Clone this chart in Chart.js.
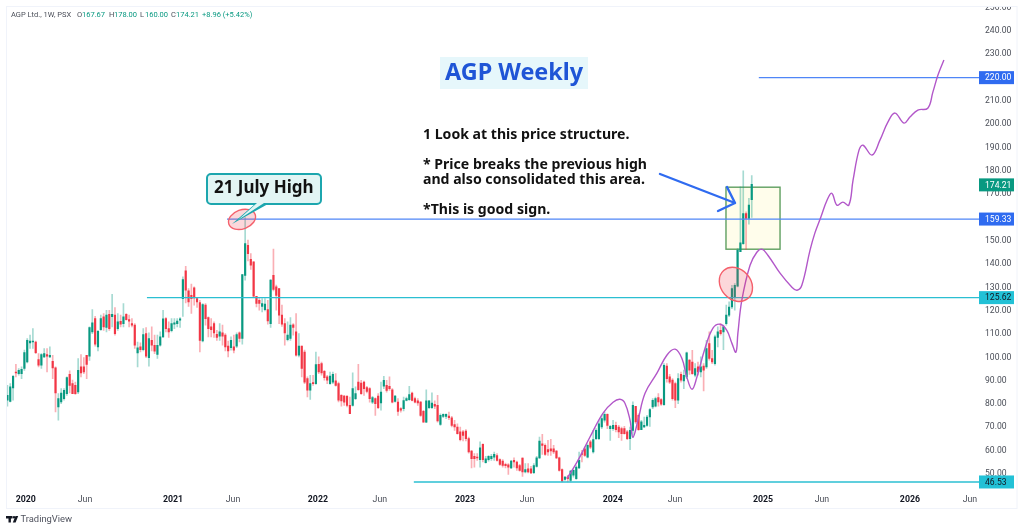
<!DOCTYPE html>
<html>
<head>
<meta charset="utf-8">
<title>AGP Weekly</title>
<script src="https://cdn.jsdelivr.net/npm/chart.js@4"></script>
<style>
html, body { margin: 0; padding: 0; background: #fff; }
canvas { display: block; }
</style>
</head>
<body>
<canvas id="chartOne" width="1024" height="531"></canvas>
<script>
// weekly candles, ten weeks per row
const opens = [
81.6,81.1,86.9,93.7,93,93,95.2,98,106.2,106.6,
106.6,99,96.6,100.2,101.2,100.2,98.3,95.5,78.7,80.9,
82.3,84.4,92.7,88.7,88,85.2,95.9,95.9,100.9,100.5,
110.9,116.6,104.5,111.9,117.4,112.8,118.5,117.4,118.1,112.3,
115.5,114.5,118.5,116.2,114.5,113.8,101.9,104.5,103.3,110.2,
99.9,107.3,105.2,101.3,105.2,108.8,116.6,112.3,111.4,114.2,
114.5,115.9,125.2,137.1,128.5,126.6,129.8,125.2,123.5,107,
122.4,117.1,113.1,114.5,109.9,109.1,110.5,109.5,104.8,104.2,
104.5,104.8,110.5,108.1,135.2,148.1,142,141,126.2,124.5,
121.9,120.5,120.5,114.5,135.2,130.2,129.5,118.1,114.5,107.6,
108.1,114,110.9,100.9,104.8,102.3,90.9,85.9,89.2,88.7,
97,97.3,94,91.6,88.7,89.4,89.9,88.7,83.7,83.4,
83.4,79.4,79.4,82.3,89.4,89,89.4,87,86.6,80.8,
82.3,83.4,80.4,87.6,88,87.6,86.1,81.1,80.8,78,
78,81.5,81.8,84.7,82.3,81.3,80.8,76.8,72.2,78.4,
78.4,79.8,79.4,71.2,74.7,74.7,74.8,74.1,71.1,70.1,
68,68,68.4,65.1,59.8,57.5,57.2,56.1,62.7,54.8,
56.1,56.5,57.2,57.9,56.1,55.5,54.1,53.9,52.6,55.8,
55.1,53.6,56.8,50.8,52.2,52.2,50.5,53.2,56.8,62.9,
62.2,60.4,60.8,60.8,59.8,56.9,51.8,47.6,48.6,47.2,
49.4,47.9,52.6,58.7,60.8,57.2,63.7,59.4,65.1,65.1,
70.1,73,75.5,69.4,69.4,70.8,70.1,69.4,69.4,68,
65.1,68.7,79,75.1,69,70.1,70.8,74.4,78.7,79,
82.7,81.9,79.7,96.2,91.6,90.2,88.7,81.6,92.7,89.9,
91.6,98.8,98,92.3,95.9,93.7,96.2,95.9,105.9,99.5,
97.3,108.5,111.6,110.9,114.5,118.1,121.6,125.9,130.5,145.3,
148.8,161.7,159.6,167.67
];
const highs = [
88,88.7,92.3,97,95.2,95.9,103.1,108.1,109.5,112.3,
107,101.6,101.6,103.8,103.8,104.5,100.9,95.9,84.4,86.6,
86.6,91.6,94.2,90.2,89.4,99.5,101.2,99.9,100.9,113.1,
120.5,117.6,111.6,118.1,118.8,120.2,120.2,127,121.4,118.8,
118.1,123.1,118.8,118.1,116.6,114.5,106.6,106.2,112.3,112.8,
110.5,113.1,109.5,109.5,110.9,120.2,117.1,115.2,116.6,116.6,
116.6,117.1,134.5,139.1,129.5,131.4,130.2,125.6,124.5,123.1,
123.1,117.4,116.6,115.2,111.6,114.5,113.8,110.2,107,108.8,
109.5,110.5,110.9,135.5,160,150.3,144.5,141,126.2,125.6,
125.2,125.2,124.5,133.4,146.4,131,129.5,122.4,116.6,115.2,
117.1,114.5,118.8,110.2,104.8,103.1,91.6,92.3,92.3,102.3,
100.2,98,94.4,92.3,93.7,93.7,93,89.4,84,83.7,
83.4,83,93.4,87.3,97,90.1,89.8,87.6,87,83.3,
82.6,84.4,89.4,91.9,90.1,91.6,86.6,83.7,82.3,78.4,
83,83,87.6,85.1,83,82.3,81.1,77.3,86.1,81.5,
84.8,81.3,83.7,75.8,75.8,75.8,76.5,74.7,73,71.5,
70.1,68.7,69,65.8,60.1,58.7,58.7,63.7,62.9,57.5,
57.9,58.4,59.4,58.7,56.5,56.1,54.6,54.4,55.8,56.9,
55.5,54.1,56.9,54.4,54.4,53.2,54.4,57.5,65.8,67,
62.9,64.4,64.8,62.2,60.1,57.2,52.2,48.9,49.4,51.5,
51.8,53.6,59.4,60.1,61.5,62.9,64.4,68.7,69.4,73,
75.1,76.5,75.8,70.8,73,72.2,70.8,70.1,70.4,68.7,
70.1,80.9,79,75.8,73,74.4,75.1,78,82.3,83,
84.4,82.3,97.3,97.3,92.7,90.9,89.4,93,93.7,94.5,
102.3,99,103,97.3,98,100.2,97.3,107.3,110.9,103,
109.5,113.1,114.5,113.8,122.4,123.8,130.9,131.7,146.7,173.2,
180,162.4,168.2,178
];
const lows = [
79,80.9,81.6,91.6,92.3,90.9,94.4,97.6,103.8,103.8,
101.6,95.9,95.2,99.9,93.7,99.9,90.9,76.6,73,80.1,
81.6,83.7,84.7,84.4,84.1,84.4,91.6,93,90.9,98.7,
110.2,104.8,102.8,111.6,111.6,110.9,111.6,113.1,109.5,111.6,
113.1,113.1,115.9,113.1,113.1,103.8,95.9,102.3,102.8,99.9,
96.2,102.8,101.6,99.5,104.8,108.5,110.9,108.5,110.9,112.3,
113.1,112.8,117.6,123.4,121.9,118.8,122.4,121.4,102.3,106.6,
113.8,108.8,108.8,108.5,107.3,107.3,105.2,102.8,100.2,103.1,
101.9,104.2,106.6,105.6,133.1,141.4,137.7,125.9,121.6,120.2,
119.5,119.9,114.2,112.8,128.5,120.2,114.5,113.3,105.2,107,
107.3,109.5,100.5,100.2,91.6,88.7,83,82,88,88.4,
93,92.3,90.2,88.7,88.4,88.7,87.6,80.9,79,79.4,
78.7,75.8,79,81.8,85.8,84.1,83.7,84.7,80.8,80.1,
75.1,78,77.3,86.6,85.1,85.8,80.4,80.8,75.1,76.5,
77,81.3,81.5,81.3,80.4,79.4,74.7,72.2,72,78,
78,78,72.2,70.8,74.1,73.7,73.3,70.1,68.7,67,
64.1,64.1,64.1,58.9,52.6,52.9,55.8,52.9,55.1,54.6,
55.5,55.8,55.8,55.5,53.6,52.9,52.6,49.8,52.2,52.9,
51.5,51.2,48.9,50.4,50.4,50.1,50.1,52.9,56.5,58.4,
57.9,57.9,57.9,58.7,56.5,51.2,46.5,47.2,46.53,46.53,
48.6,47.6,52.2,55.1,57.5,56.9,60.8,58.9,64.7,64.7,
69.4,72.2,69.4,64.4,68.7,68,65.5,64.4,67,64.7,
60.4,65.8,71.6,68.7,69,69.8,70.4,70.4,78,78.7,
79,79.4,79.4,89.4,88.7,81.6,78.4,80.1,89.4,86.6,
90.9,92.7,92.7,91.6,92.3,91.6,85.6,95.2,98.8,97.3,
96.6,104.5,109.5,103.3,113.8,117.4,120.9,120.2,130.2,145.3,
148.5,146.3,157.1,160
];
const closes = [
83.7,87.3,91.9,93.3,94.4,94.9,102,107.3,107,107,
102,96.6,101.2,101.6,100.5,100.9,95.5,84.7,82.3,84.7,
85.9,91.3,88,84.4,84.4,94.4,93.3,93.7,97,112.8,
114.8,105.6,111.2,116.6,113.1,118.1,112.3,118.5,110.2,115.2,
114.2,117.4,116.2,115.5,113.8,105.2,104.1,103.3,109.8,100.5,
108.1,105.2,102.6,105.2,108.8,116.5,112.3,110.9,114.5,114.8,
115.6,116.5,133.4,128.8,123.8,125.2,125.5,123.8,107.3,122.6,
116.6,112.3,111.9,110.5,108.5,110.9,109.1,104.5,102.8,107.3,
103.1,109.8,108.1,135.5,148.8,144.5,139.5,126.2,123.1,123.1,
123.1,122.8,115.6,133.1,129.1,126.6,118.1,114.2,110.5,109.5,
113.8,112.8,100.9,104.8,95.2,89.4,85.9,88.7,88.7,96.9,
93.7,93.3,91.3,90.2,92,92.7,88,81.6,81.3,80.8,
79.4,75.8,86.6,84.4,86.1,84.4,86.6,85.4,82.3,82.7,
80.1,78.4,85.1,90.1,85.8,86.6,80.8,83.4,76.8,77.3,
81.5,82.3,84,81.5,80.8,80.4,75.1,72.2,81.3,81.3,
80.4,79,72.7,75.1,75.5,75.5,74.1,70.8,70.1,67.2,
64.7,66.5,65.1,59.4,56.5,56.5,56.9,61.2,56.1,56.5,
57.5,57.5,58.4,55.8,54.1,53.6,53.5,52.9,55.5,55.1,
52.6,51.5,50.8,51.8,50.8,50.4,53.6,56.9,64.1,62.2,
58.4,59.4,59.8,59.4,56.9,51.5,46.9,48.6,47.9,51.2,
51.5,52.9,55.8,58.4,57.9,62.2,61.5,64.7,68.7,71.5,
73.7,75.5,70.8,70.4,70.8,69,68,67.3,67.3,65.1,
68.7,79.4,72.3,69,72.3,70.8,74.4,77.6,81.6,82.3,
80.9,79.9,96.6,90.9,89.4,82.3,81.6,90.9,90.2,92.3,
101.9,94.5,93,95.2,93.7,95.9,94.5,103.8,99.5,98,
108.8,110.9,110.2,113.1,118.1,121.6,129.5,130.9,146,149.1,
161.7,159.6,165.3,174.21
];

// hand drawn projection: week number and price
const projWeeks = [197.7,201.2,205.8,210.4,214,216.4,218.2,220,221,222.8,225.3,229.5,233,235.9,238.3,240.1,241.9,243.6,246.5,249.3,251.8,254.2,256,257.4,258.1,259.5,262.4,264.8,266.6,268.7,273,277.2,279,280.7,283.6,285.3,287.4,289.6,291.3,293.1,295.2,297.3,298.8,300.9,302.3,305.5,308.3,311.1,313.6,316.8,318.9,321.7,325.2,327,328.8,330.9];
const projPrices = [48.1,54.9,65.7,76,80.7,82,80.3,73,65.7,73,84.6,93.2,100.9,103.5,99.6,91.4,86.3,91.4,103.9,112.5,114.2,111.6,106,102.2,110.3,124.5,139.5,145.1,146.4,143.8,136.1,130.1,128.8,130.9,146,153.3,160.1,167.4,170.4,165.3,166.6,165.3,176,188.9,191,186.8,193.2,200.9,204.8,200.5,203.1,206.1,206.9,213.8,221.1,227.6];

// horizontal levels
const levelPrices = [220, 159.33, 125.62, 46.53];
const levelStarts = [265.5, 77.6, 49.3, 143.6];
const lastClose = 174.21;

// axes
const priceTicks = [50,60,70,80,90,100,110,120,130,140,150,160,170,180,190,200,210,220,230,240,250];
const timeLabels = ['2020','Jun','2021','Jun','2022','Jun','2023','Jun','2024','Jun','2025','Jun','2026','Jun'];
const timeWeeks = [6.5,27.4,58.5,79.7,109.7,131.6,161.7,183.6,213.9,235.9,267,287.8,318.9,340.1];

const UP = '#089981', DOWN = '#f23645';
const UP_WICK = 'rgba(8,153,129,0.36)', DOWN_WICK = 'rgba(242,54,69,0.4)';
const BLUE = '#4f86f7', CYAN = '#2bbfd2';
const TV_FONT = 'Roboto, sans-serif';
const NOTE_FONT = '"Noto Sans", sans-serif';

const isUp = i => closes[i] >= opens[i];

// things sitting under the candles
const underlay = {
  id: 'underlay',
  beforeDatasetsDraw(chart) {
    const { ctx, scales: { x, y } } = chart;
    const left = x.getPixelForValue(253.9), right = x.getPixelForValue(273);
    const top = y.getPixelForValue(173), bottom = y.getPixelForValue(146.4);
    ctx.save();
    ctx.fillStyle = '#fffdeb';
    ctx.strokeStyle = '#5f9f60';
    ctx.lineWidth = 1.4;
    ctx.fillRect(left, top, right - left, bottom - top);
    ctx.strokeRect(left, top, right - left, bottom - top);
    ctx.restore();
  }
};

function ellipse(ctx, x, y, rx, ry, rot) {
  ctx.beginPath();
  ctx.ellipse(x, y, rx, ry, rot, 0, Math.PI * 2);
  ctx.fillStyle = 'rgba(242,54,69,0.2)';
  ctx.fill();
  ctx.strokeStyle = '#f4606c';
  ctx.lineWidth = 1.4;
  ctx.stroke();
}

function priceTag(ctx, text, top, bg, fg) {
  ctx.fillStyle = bg;
  ctx.fillRect(979, top, 35, 13);
  ctx.fillStyle = fg;
  ctx.font = '8.6px ' + TV_FONT;
  ctx.textAlign = 'left';
  ctx.textBaseline = 'middle';
  ctx.fillText(text, 985, top + 7);
}

// notes, tags and chrome on top of everything
const overlay = {
  id: 'overlay',
  afterDraw(chart) {
    const { ctx, scales: { x, y } } = chart;
    ctx.save();

    // clip the top tick label at the frame
    ctx.fillStyle = '#fff';
    ctx.fillRect(0, 0, 1024, 6);
    ctx.strokeStyle = '#f0f3fa';
    ctx.lineWidth = 1;
    ctx.strokeRect(6.5, 6.5, 1010.5, 502);

    // highlighted spots
    ellipse(ctx, x.getPixelForValue(82.9), y.getPixelForValue(159.2), 14, 9.5, -0.35);
    ellipse(ctx, x.getPixelForValue(257.4), y.getPixelForValue(131.3), 18.5, 15, 0.85);

    // arrow into the box
    ctx.strokeStyle = '#2f6bf0';
    ctx.lineWidth = 2.4;
    ctx.lineCap = 'round';
    ctx.lineJoin = 'round';
    ctx.beginPath();
    ctx.moveTo(660, 174);
    ctx.lineTo(735, 203);
    ctx.moveTo(727, 187);
    ctx.lineTo(735, 203);
    ctx.lineTo(718, 211);
    ctx.stroke();

    // callout
    ctx.fillStyle = '#e2f5f4';
    ctx.strokeStyle = '#1ca6ae';
    ctx.lineWidth = 2;
    ctx.beginPath();
    ctx.roundRect(207, 174, 114, 30, 4);
    ctx.fill();
    ctx.stroke();
    ctx.beginPath();
    ctx.moveTo(255, 204);
    ctx.lineTo(232, 224);
    ctx.lineTo(268, 204);
    ctx.closePath();
    ctx.fillStyle = '#1ca6ae';
    ctx.fill();
    ctx.beginPath();
    ctx.moveTo(257, 203);
    ctx.lineTo(238, 220);
    ctx.lineTo(264, 203);
    ctx.closePath();
    ctx.fillStyle = '#e2f5f4';
    ctx.fill();
    ctx.fillStyle = '#111';
    ctx.font = 'bold 17px ' + NOTE_FONT;
    ctx.textAlign = 'left';
    ctx.textBaseline = 'middle';
    ctx.fillText('21 July High', 214, 188.5);

    // title
    ctx.fillStyle = '#e6f7fb';
    ctx.fillRect(440, 57, 148, 32);
    ctx.fillStyle = '#1f55d6';
    ctx.font = 'bold 23.4px ' + NOTE_FONT;
    ctx.fillText('AGP Weekly', 445, 73);

    // note text
    ctx.fillStyle = '#111';
    ctx.font = 'bold 14.1px ' + NOTE_FONT;
    ctx.fillText('1 Look at this price structure.', 423, 135);
    ctx.fillText('* Price breaks the previous high', 423, 165);
    ctx.fillText('and also consolidated this area.', 423, 180);
    ctx.fillText('*This is good sign.', 423, 210);

    // header line
    ctx.font = '7.5px ' + TV_FONT;
    ctx.textBaseline = 'middle';
    const head = [
      ['AGP Ltd., 1W, PSX', 11, '#4a4e58'], ['O', 77, '#4a4e58'], ['167.67', 82, UP],
      ['H', 109, '#4a4e58'], ['178.00', 114, UP], ['L', 140, '#4a4e58'], ['160.00', 145, UP],
      ['C', 171, '#4a4e58'], ['174.21', 176, UP], ['+8.96 (+5.42%)', 202, UP]
    ];
    head.forEach(h => {
      ctx.fillStyle = h[2];
      ctx.fillText(h[0], h[1], 15.5);
    });

    // price tags on the axis
    priceTag(ctx, '220.00', y.getPixelForValue(levelPrices[0]) - 6.5, '#2f6bf0', '#fff');
    priceTag(ctx, lastClose.toFixed(2), y.getPixelForValue(lastClose) - 6, UP, '#fff');
    priceTag(ctx, '159.33', y.getPixelForValue(levelPrices[1]) - 6.5, '#2f6bf0', '#fff');
    priceTag(ctx, '125.62', y.getPixelForValue(levelPrices[2]) - 6.5, '#22c1d6', '#131722');
    priceTag(ctx, '46.53', y.getPixelForValue(levelPrices[3]) - 6.5, '#22c1d6', '#131722');

    // TradingView mark
    ctx.fillStyle = '#131722';
    ctx.fillRect(6, 516, 6.5, 2.5);
    ctx.fillRect(8.5, 516, 2.4, 6.5);
    ctx.beginPath();
    ctx.arc(14, 517.2, 1.2, 0, Math.PI * 2);
    ctx.fill();
    ctx.beginPath();
    ctx.moveTo(15.5, 516);
    ctx.lineTo(18.2, 516);
    ctx.lineTo(15.6, 522.5);
    ctx.lineTo(12.8, 522.5);
    ctx.closePath();
    ctx.fill();
    ctx.fillStyle = '#50535e';
    ctx.font = '9.4px ' + TV_FONT;
    ctx.fillText('TradingView', 20.5, 520);

    ctx.restore();
  }
};

const chart1 = document.getElementById('chartOne');

const weeks = opens.map((v, i) => i);

new Chart(chart1, {
  type: 'bar',
  data: {
    datasets: [
      {
        type: 'line',
        label: 'Projection',
        data: projWeeks.map((w, i) => ({ x: w, y: projPrices[i] })),
        borderColor: '#b257c9',
        borderWidth: 1.4,
        pointRadius: 0,
        tension: 0.4,
        order: 0
      },
      ...levelPrices.map((p, i) => ({
        type: 'line',
        label: 'Level ' + p,
        data: [{ x: levelStarts[i], y: p }, { x: 343.3, y: p }],
        borderColor: i < 2 ? BLUE : CYAN,
        borderWidth: i == 3 ? 1.4 : 1.2,
        pointRadius: 0,
        order: 1
      })),
      {
        label: 'Bodies',
        data: weeks.map(i => ({ x: i, y: [opens[i], closes[i]] })),
        backgroundColor: weeks.map(i => isUp(i) ? UP : DOWN),
        barThickness: 1.5,
        grouped: false,
        order: 2
      },
      {
        label: 'Wicks',
        data: weeks.map(i => ({ x: i, y: [lows[i], highs[i]] })),
        backgroundColor: weeks.map(i => isUp(i) ? UP_WICK : DOWN_WICK),
        barThickness: 1,
        grouped: false,
        order: 3
      }
    ]
  },
  options: {
    responsive: false,
    animation: false,
    layout: { padding: { left: 6, top: 6, right: 7, bottom: 20.5 } },
    plugins: { legend: { display: false }, tooltip: { enabled: false } },
    scales: {
      x: {
        type: 'linear',
        offset: false,
        min: -0.5,
        max: 343.3,
        grid: { display: false, drawTicks: false },
        border: { display: false },
        afterBuildTicks(scale) {
          scale.ticks = timeWeeks.map(w => ({ value: w }));
        },
        afterFit(scale) { scale.height = 21; },
        ticks: {
          autoSkip: false,
          maxRotation: 0,
          padding: 5,
          callback: (v, i) => timeLabels[i],
          color: ctx => ctx.index % 2 == 0 ? '#131722' : '#4a4e58',
          font: ctx => ({ family: TV_FONT, size: 8.8, weight: ctx.index % 2 == 0 ? 'bold' : 'normal' })
        }
      },
      y: {
        position: 'right',
        min: 43.3,
        max: 250.74,
        grid: { display: false, drawTicks: false },
        border: { display: false },
        afterBuildTicks(scale) {
          scale.ticks = priceTicks.map(v => ({ value: v }));
        },
        afterFit(scale) {
          scale.width = 38;
          scale.paddingTop = 0;
          scale.paddingBottom = 0;
        },
        ticks: {
          autoSkip: false,
          padding: 6,
          callback: v => v.toFixed(2),
          color: '#4a4e58',
          font: { family: TV_FONT, size: 8.6 }
        }
      }
    }
  },
  plugins: [underlay, overlay]
});
</script>
</body>
</html>
